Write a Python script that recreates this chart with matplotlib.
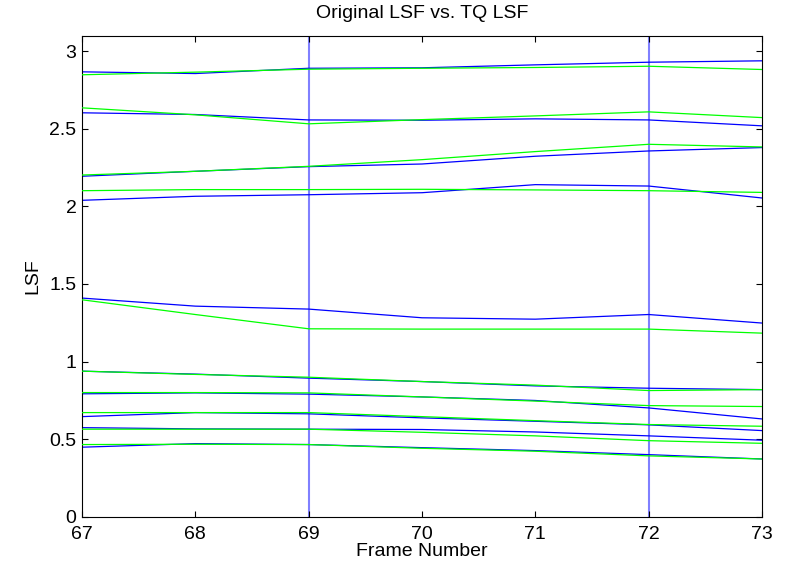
import matplotlib
matplotlib.use("Agg")
import matplotlib.pyplot as plt

# frame numbers
frames = [67, 68, 69, 70, 71, 72, 73]

# original LSF (blue), one list per coefficient
orig_lsf = [
    [0.448, 0.471, 0.465, 0.445, 0.426, 0.400, 0.372],
    [0.574, 0.566, 0.564, 0.562, 0.546, 0.521, 0.493],
    [0.645, 0.671, 0.663, 0.637, 0.615, 0.592, 0.555],
    [0.792, 0.798, 0.790, 0.772, 0.749, 0.701, 0.630],
    [0.938, 0.919, 0.893, 0.871, 0.843, 0.828, 0.819],
    [1.409, 1.357, 1.338, 1.282, 1.273, 1.303, 1.248],
    [2.039, 2.065, 2.075, 2.088, 2.140, 2.131, 2.054],
    [2.194, 2.226, 2.256, 2.273, 2.323, 2.357, 2.379],
    [2.603, 2.592, 2.557, 2.555, 2.564, 2.557, 2.519],
    [2.867, 2.856, 2.890, 2.893, 2.912, 2.929, 2.938],
]

# TQ LSF (green)
tq_lsf = [
    [0.465, 0.467, 0.465, 0.441, 0.422, 0.392, 0.372],
    [0.564, 0.564, 0.564, 0.544, 0.521, 0.490, 0.473],
    [0.671, 0.671, 0.671, 0.645, 0.619, 0.594, 0.583],
    [0.800, 0.800, 0.798, 0.772, 0.745, 0.716, 0.710],
    [0.938, 0.917, 0.899, 0.871, 0.848, 0.813, 0.819],
    [1.398, 1.303, 1.211, 1.209, 1.209, 1.209, 1.183],
    [2.101, 2.108, 2.108, 2.110, 2.106, 2.101, 2.090],
    [2.202, 2.226, 2.258, 2.301, 2.353, 2.400, 2.383],
    [2.635, 2.590, 2.532, 2.559, 2.583, 2.609, 2.572],
    [2.848, 2.865, 2.884, 2.890, 2.895, 2.903, 2.882],
]

# frame markers
markers = [67, 69, 72]

plt.rcParams['font.family'] = ['Liberation Sans', 'DejaVu Sans']

fig = plt.figure(figsize=(7.86, 5.69), dpi=100)
ax = fig.add_axes([0.1043, 0.0919, 0.8652, 0.8454])

for m in markers:
    if m == frames[0]:
        ax.axvline(m, color='#0000ff', linewidth=1.2, zorder=1)
    else:
        ax.axvline(m, color='#8080ff', linewidth=1.5, zorder=1)

for row in orig_lsf:
    ax.plot(frames, row, color='#0000ff', linewidth=0.9, zorder=2)
for row in tq_lsf:
    ax.plot(frames, row, color='#00ff00', linewidth=0.9, zorder=3)

ax.set_xlim(67, 73)
ax.set_ylim(0, 3.1)
ax.set_xticks(frames)
ax.set_yticks([0, 0.5, 1, 1.5, 2, 2.5, 3])
ax.set_yticklabels(['0', '0.5', '1', '1.5', '2', '2.5', '3'])
ax.tick_params(direction='in', top=True, right=True, labelsize=14, length=4)
ax.tick_params(axis='x', pad=7)
ax.tick_params(axis='y', pad=4)
ax.set_title('Original LSF vs. TQ LSF', fontsize=14, pad=13)
ax.set_xlabel('Frame Number', fontsize=14, labelpad=0)
ax.set_ylabel('LSF', fontsize=14, labelpad=6)

fig.savefig('out.png', dpi=100)
